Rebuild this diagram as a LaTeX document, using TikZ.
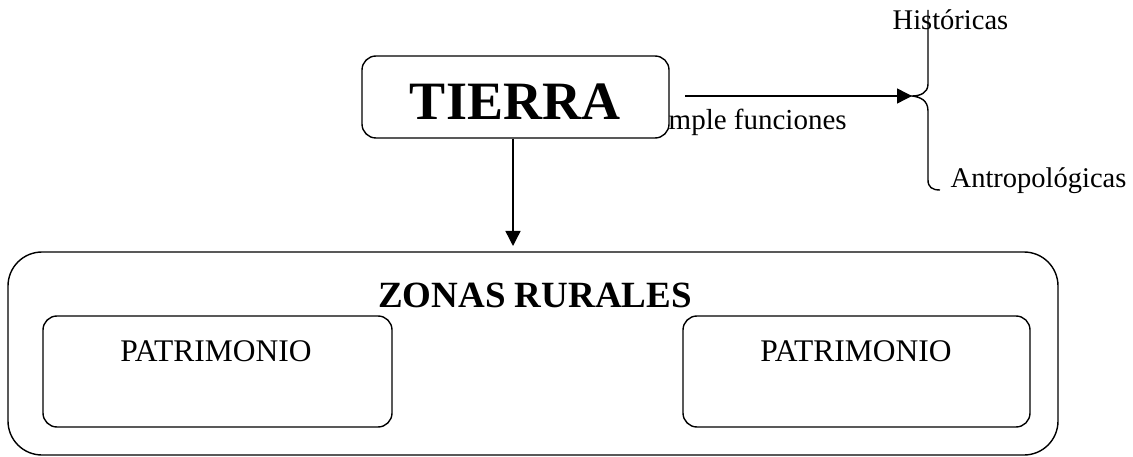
\documentclass[tikz,border=0pt]{standalone}
\usepackage{fontspec}
\setmainfont{Liberation Serif}
\usetikzlibrary{arrows.meta}
\begin{document}
\begin{tikzpicture}[x=1pt,y=-1pt,line width=1.4pt,
        caja/.style={draw,rounded corners=#1,inner sep=0pt},
        caja/.default=14pt,
        flecha/.style={-{Triangle[length=15pt,width=15pt]}},
        every node/.style={inner sep=0pt}]
    \useasboundingbox (0,0) rectangle (1133,457);

    \node[caja, minimum width=307, minimum height=82] (tierra) at (515.5,97) {};
    \node[anchor=base, font=\bfseries\fontsize{54}{60}\selectfont] (tierratxt) at (515,120) {TIERRA};

    \node[caja=34pt, minimum width=1050, minimum height=203] (zonas) at (533,353.5) {};
    \node[anchor=base, font=\bfseries\fontsize{37}{44}\selectfont] (zonastxt) at (535,307) {ZONAS RURALES};

    \node[caja, minimum width=349, minimum height=111] (patizq) at (217.5,371.5) {};
    \node[caja, minimum width=347, minimum height=111] (patder) at (856.5,371.5) {};
    \node[anchor=base, font=\fontsize{31.5}{38}\selectfont] (patizqtxt) at (216,361) {PATRIMONIO};
    \node[anchor=base, font=\fontsize{31.5}{38}\selectfont] (patdertxt) at (856,361) {PATRIMONIO};

    \node[anchor=base west, font=\fontsize{29}{34}\selectfont] (funciones) at (668,130) {mple funciones};
    \node[anchor=base west, font=\fontsize{28.5}{34}\selectfont] (historicas) at (892,30) {Históricas};
    \node[anchor=base west, font=\fontsize{28.5}{34}\selectfont] (antropo) at (950,188) {Antropológicas};

    \coordinate (baja) at (513,246);
    \coordinate (salida) at (685,96);
    \coordinate (llave) at (912,96);

    \draw[flecha] (tierra.south -| baja) -- (baja);
    \draw[flecha] (salida) -- (llave);

    % llave
    \draw (928,10) -- (928,84) .. controls (928,93) and (920,96) .. (llave)
        .. controls (920,97) and (928,100) .. (928,111) -- (928,180)
        .. controls (928,187) and (932,190) .. (940,190);
\end{tikzpicture}
\end{document}
